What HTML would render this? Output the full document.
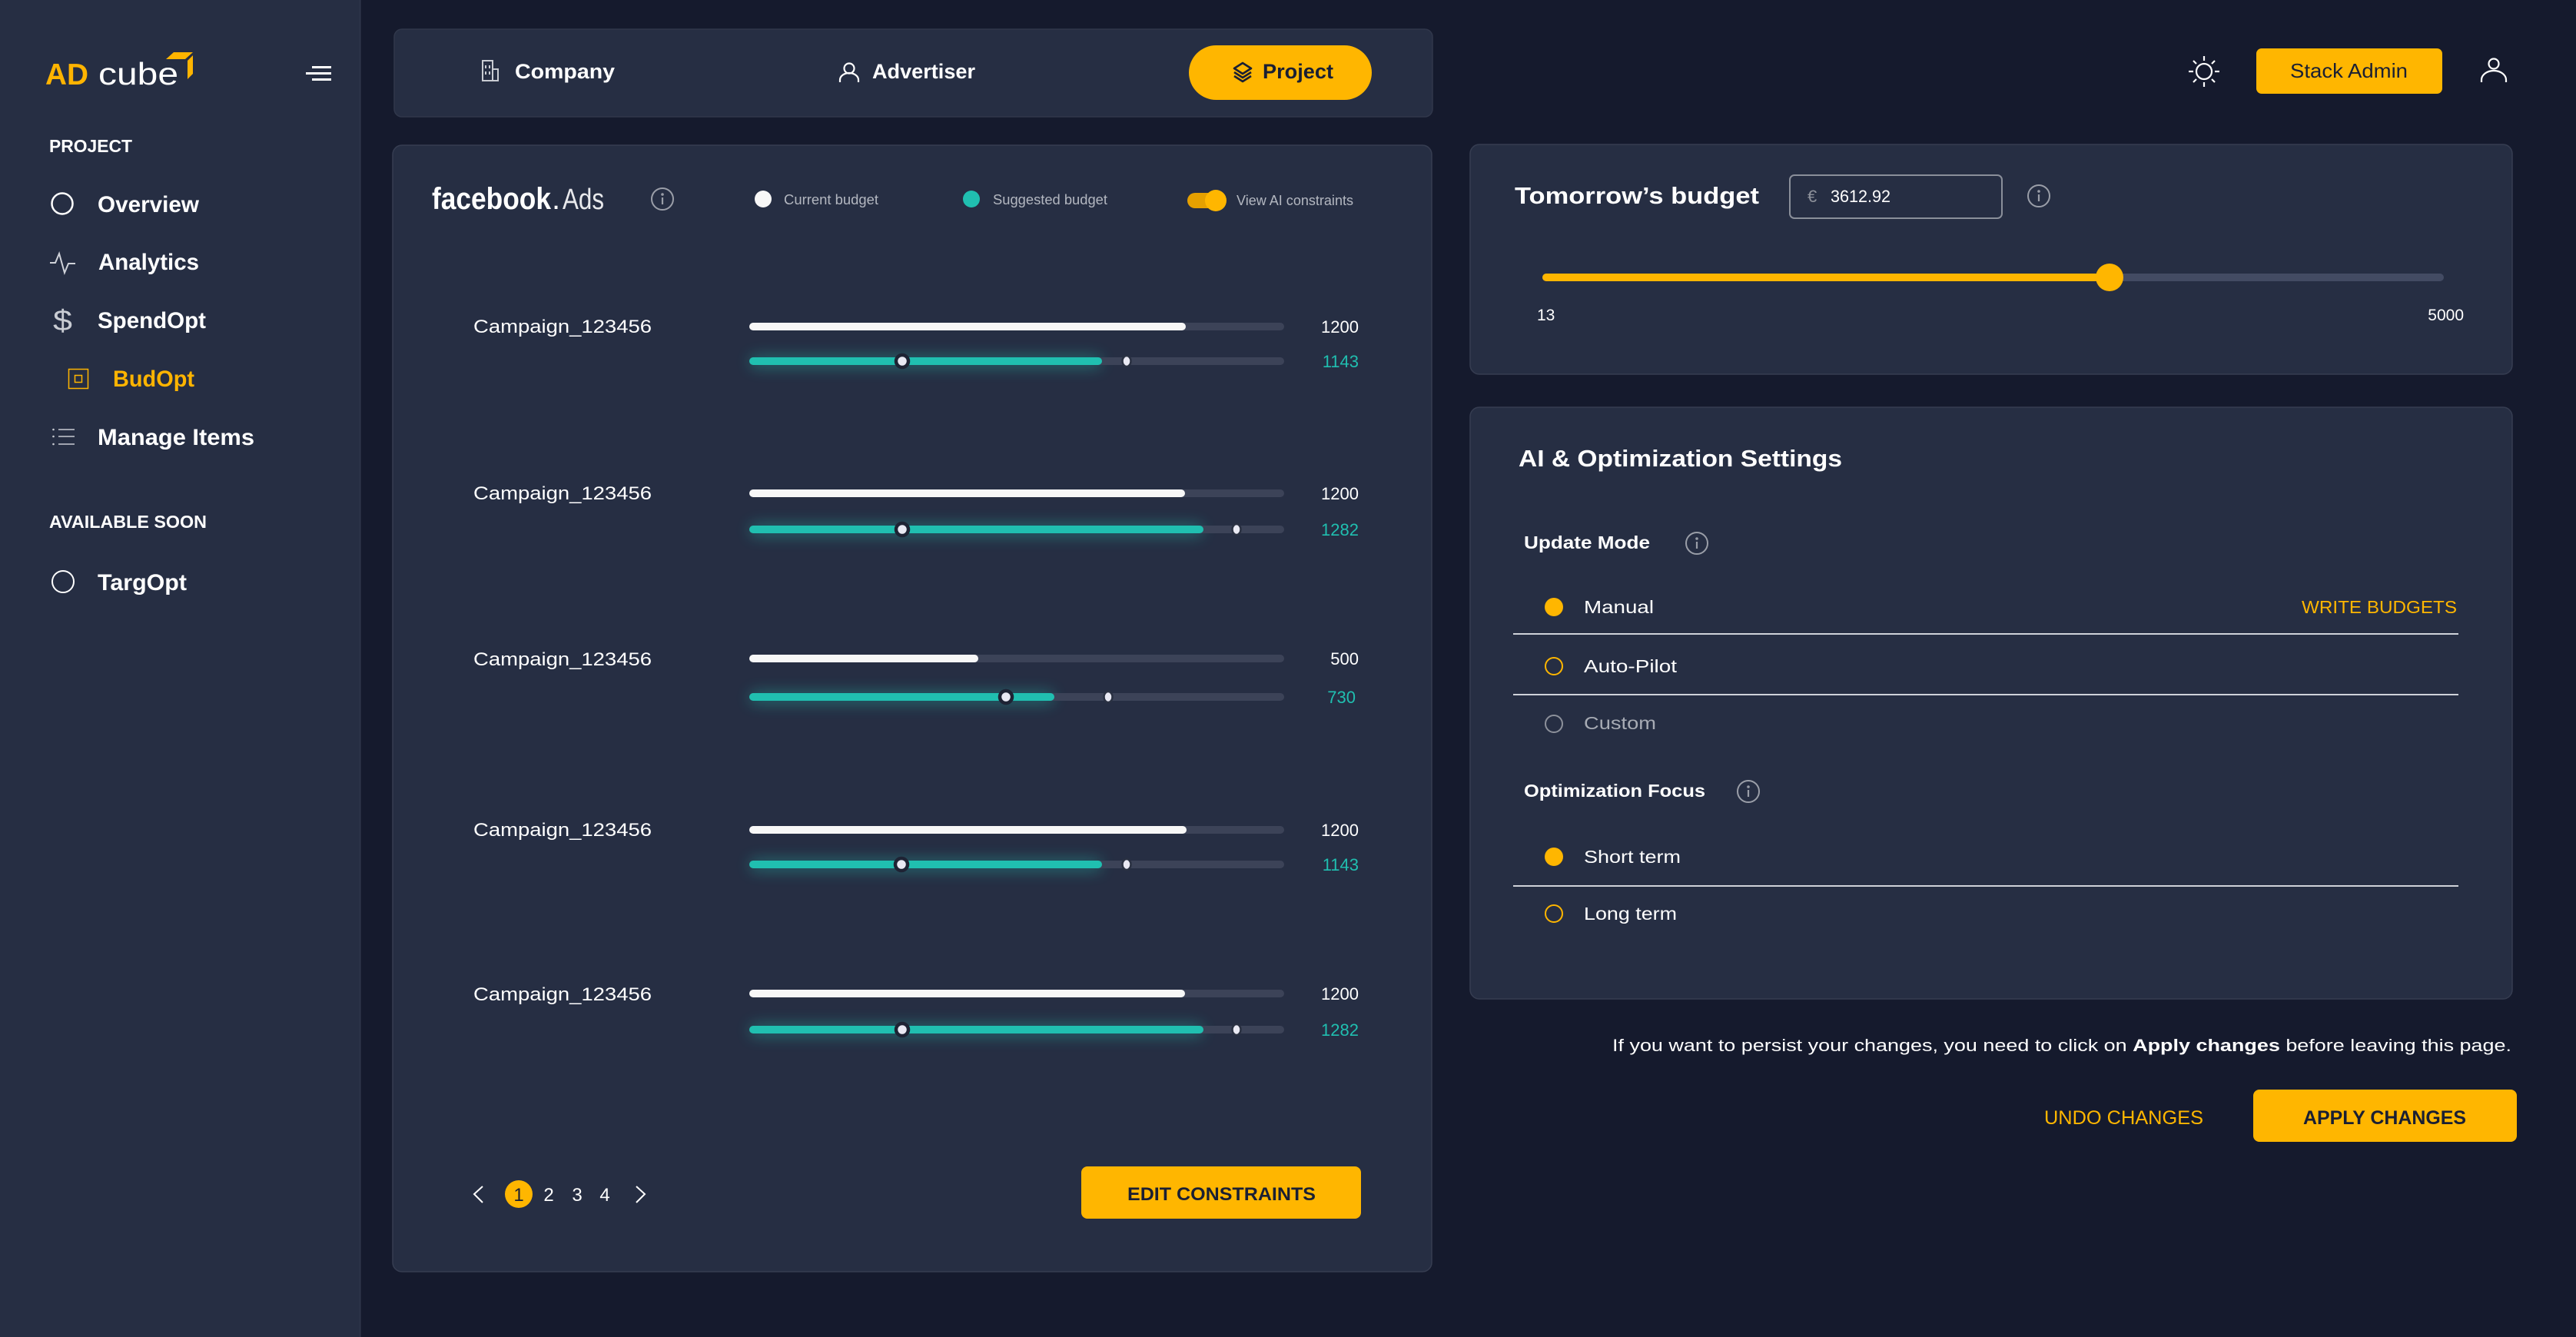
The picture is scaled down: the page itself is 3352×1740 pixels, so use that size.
<!DOCTYPE html>
<html><head><meta charset="utf-8"><style>
html,body{margin:0;padding:0;background:#151a2d;}
body{width:3352px;height:1740px;overflow:hidden;}
svg{display:block;}
text{font-family:"Liberation Sans",sans-serif;}
</style></head><body>
<svg width="3352" height="1740" viewBox="0 0 3352 1740" xmlns="http://www.w3.org/2000/svg">
<defs>
<filter id="glow" x="-20%" y="-200%" width="140%" height="500%"><feGaussianBlur stdDeviation="9"/></filter>
</defs>
<rect width="3352" height="1740" fill="#151a2d"/>
<!-- Sidebar -->
<rect x="0" y="0" width="469" height="1740" fill="#262e43"/>
<rect x="468" y="0" width="1.5" height="1740" fill="#30374b"/>
<text x="59" y="110" font-size="39" font-weight="bold" fill="#ffb400" textLength="56" lengthAdjust="spacingAndGlyphs">AD</text>
<text x="128" y="110" font-size="41" fill="#ffffff" textLength="104" lengthAdjust="spacingAndGlyphs">cube</text>
<polygon points="226,68 251,68 241,77 216,77" fill="#ffb400"/>
<polygon points="244,79 251,72 251,96 244,103" fill="#ffb400"/>
<rect x="406" y="86" width="25" height="3" fill="#fff"/>
<rect x="398" y="94" width="33" height="3" fill="#fff"/>
<rect x="406" y="102" width="25" height="3" fill="#fff"/>

<text x="64" y="198" font-size="23" font-weight="bold" fill="#fff" textLength="108" lengthAdjust="spacingAndGlyphs">PROJECT</text>
<circle cx="81" cy="265" r="13.5" fill="none" stroke="#fff" stroke-width="2.5"/>
<text x="127" y="276" font-size="30" font-weight="bold" fill="#fff" textLength="132" lengthAdjust="spacingAndGlyphs">Overview</text>
<polyline points="65,342 72,342 77,330 84,355 89,343 98,343" fill="none" stroke="#d0d3da" stroke-width="2"/>
<text x="128" y="351" font-size="30" font-weight="bold" fill="#fff" textLength="131" lengthAdjust="spacingAndGlyphs">Analytics</text>
<text x="69" y="430" font-size="38" fill="#c9ccd3" textLength="25" lengthAdjust="spacingAndGlyphs">$</text>
<text x="127" y="427" font-size="30" font-weight="bold" fill="#fff" textLength="141" lengthAdjust="spacingAndGlyphs">SpendOpt</text>
<rect x="89.5" y="480.5" width="25" height="25" fill="none" stroke="#ffb400" stroke-width="1.5"/>
<rect x="97.5" y="488.5" width="9" height="9" fill="none" stroke="#ffb400" stroke-width="1.5"/>
<text x="147" y="503" font-size="30" font-weight="bold" fill="#ffb400" textLength="106" lengthAdjust="spacingAndGlyphs">BudOpt</text>
<g fill="#c9ccd3"><circle cx="69.5" cy="559" r="1.3"/><circle cx="69.5" cy="568" r="1.3"/><circle cx="69.5" cy="578" r="1.3"/></g>
<g stroke="#c9ccd3" stroke-width="1.6"><line x1="76" y1="559" x2="97" y2="559"/><line x1="76" y1="568" x2="97" y2="568"/><line x1="76" y1="578" x2="97" y2="578"/></g>
<text x="127" y="579" font-size="30" font-weight="bold" fill="#fff" textLength="204" lengthAdjust="spacingAndGlyphs">Manage Items</text>
<text x="64" y="687" font-size="23" font-weight="bold" fill="#fff" textLength="205" lengthAdjust="spacingAndGlyphs">AVAILABLE SOON</text>
<circle cx="82" cy="757" r="14" fill="none" stroke="#fff" stroke-width="2"/>
<text x="127" y="768" font-size="30" font-weight="bold" fill="#fff" textLength="116" lengthAdjust="spacingAndGlyphs">TargOpt</text>

<!-- Top nav -->
<rect x="513" y="38" width="1351" height="114" rx="10" fill="#262e43" stroke="#30374b" stroke-width="1.5"/>
<g fill="none" stroke="#c9ccd3" stroke-width="2">
<rect x="628" y="79" width="13" height="26"/><rect x="641" y="90" width="7" height="15"/>
<line x1="632" y1="85" x2="632" y2="89"/><line x1="637" y1="85" x2="637" y2="89"/>
<line x1="632" y1="93" x2="632" y2="97"/><line x1="637" y1="93" x2="637" y2="97"/>
</g>
<text x="670" y="102" font-size="27" font-weight="bold" fill="#fff" textLength="130" lengthAdjust="spacingAndGlyphs">Company</text>
<g fill="none" stroke="#fff" stroke-width="2.2">
<circle cx="1105" cy="89" r="6.5"/><path d="M1093 107 v-3 a12 9 0 0 1 24 0 v3"/>
</g>
<text x="1135" y="102" font-size="27" font-weight="bold" fill="#fff" textLength="134" lengthAdjust="spacingAndGlyphs">Advertiser</text>
<rect x="1547" y="59" width="238" height="71" rx="35.5" fill="#ffb600"/>
<g fill="none" stroke="#1a1f33" stroke-width="2.6" stroke-linejoin="round">
<polygon points="1617,82 1628,89 1617,96 1606,89"/>
<polyline points="1606,94 1617,101 1628,94"/>
<polyline points="1606,99 1617,106 1628,99"/>
</g>
<text x="1643" y="102" font-size="27" font-weight="bold" fill="#1a1f33" textLength="92" lengthAdjust="spacingAndGlyphs">Project</text>

<!-- Facebook card -->
<rect x="511" y="189" width="1352" height="1466" rx="12" fill="#262e43" stroke="#363d51" stroke-width="1.5"/>
<text x="562" y="272" font-size="40" font-weight="bold" fill="#fff" textLength="155" lengthAdjust="spacingAndGlyphs">facebook</text>
<text x="718" y="272" font-size="40" fill="#fff">.</text>
<text x="732" y="272" font-size="38" fill="#e8e9ec" textLength="54" lengthAdjust="spacingAndGlyphs">Ads</text>
<g><circle cx="862" cy="259" r="14" fill="none" stroke="#9a9ea8" stroke-width="2"/><circle cx="862" cy="253" r="1.8" fill="#9a9ea8"/><line x1="862" y1="257" x2="862" y2="266" stroke="#9a9ea8" stroke-width="2.2"/></g>
<circle cx="993" cy="259" r="11" fill="#f7f7f7"/>
<text x="1020" y="266" font-size="18" fill="#b3b7c0" textLength="123" lengthAdjust="spacingAndGlyphs">Current budget</text>
<circle cx="1264" cy="259" r="11" fill="#20bfb0"/>
<text x="1292" y="266" font-size="18" fill="#b3b7c0" textLength="149" lengthAdjust="spacingAndGlyphs">Suggested budget</text>
<rect x="1545" y="251" width="44" height="20" rx="10" fill="#e5a000"/>
<circle cx="1582" cy="261" r="14" fill="#ffb600"/>
<text x="1609" y="267" font-size="18" fill="#b3b7c0" textLength="152" lengthAdjust="spacingAndGlyphs">View AI constraints</text>

<!-- Rows -->
<g id="rows">
<!-- row 1 -->
<text x="616" y="433" font-size="24" fill="#fff" textLength="232" lengthAdjust="spacingAndGlyphs">Campaign_123456</text>
<rect x="975" y="420" width="696" height="10" rx="5" fill="#3c4358"/>
<rect x="975" y="420" width="568" height="10" rx="5" fill="#f7f7f7"/>
<rect x="975" y="462" width="459" height="18" rx="9" fill="#20bfb0" opacity="0.35" filter="url(#glow)"/>
<rect x="975" y="465" width="696" height="10" rx="5" fill="#3c4358"/>
<rect x="975" y="465" width="459" height="10" rx="5" fill="#20bfb0"/>
<ellipse cx="1466" cy="470" rx="5.5" ry="7" fill="#e9e9f3" stroke="#2a3142" stroke-width="2.5"/>
<circle cx="1174" cy="470" r="8" fill="#e9e9f3" stroke="#1e2334" stroke-width="4.5"/>
<text x="1768" y="433" font-size="22" fill="#fff" text-anchor="end">1200</text>
<text x="1768" y="478" font-size="22" fill="#20bfb0" text-anchor="end">1143</text>
<!-- row 2 -->
<text x="616" y="650" font-size="24" fill="#fff" textLength="232" lengthAdjust="spacingAndGlyphs">Campaign_123456</text>
<rect x="975" y="637" width="696" height="10" rx="5" fill="#3c4358"/>
<rect x="975" y="637" width="567" height="10" rx="5" fill="#f7f7f7"/>
<rect x="975" y="681" width="591" height="18" rx="9" fill="#20bfb0" opacity="0.35" filter="url(#glow)"/>
<rect x="975" y="684" width="696" height="10" rx="5" fill="#3c4358"/>
<rect x="975" y="684" width="591" height="10" rx="5" fill="#20bfb0"/>
<ellipse cx="1609" cy="689" rx="5.5" ry="7" fill="#e9e9f3" stroke="#2a3142" stroke-width="2.5"/>
<circle cx="1174" cy="689" r="8" fill="#e9e9f3" stroke="#1e2334" stroke-width="4.5"/>
<text x="1768" y="650" font-size="22" fill="#fff" text-anchor="end">1200</text>
<text x="1768" y="697" font-size="22" fill="#20bfb0" text-anchor="end">1282</text>
<!-- row 3 -->
<text x="616" y="866" font-size="24" fill="#fff" textLength="232" lengthAdjust="spacingAndGlyphs">Campaign_123456</text>
<rect x="975" y="852" width="696" height="10" rx="5" fill="#3c4358"/>
<rect x="975" y="852" width="298" height="10" rx="5" fill="#f7f7f7"/>
<rect x="975" y="899" width="397" height="18" rx="9" fill="#20bfb0" opacity="0.35" filter="url(#glow)"/>
<rect x="975" y="902" width="696" height="10" rx="5" fill="#3c4358"/>
<rect x="975" y="902" width="397" height="10" rx="5" fill="#20bfb0"/>
<ellipse cx="1442" cy="907" rx="5.5" ry="7" fill="#e9e9f3" stroke="#2a3142" stroke-width="2.5"/>
<circle cx="1309" cy="907" r="8" fill="#e9e9f3" stroke="#1e2334" stroke-width="4.5"/>
<text x="1768" y="865" font-size="22" fill="#fff" text-anchor="end">500</text>
<text x="1764" y="915" font-size="22" fill="#20bfb0" text-anchor="end">730</text>
<!-- row 4 -->
<text x="616" y="1088" font-size="24" fill="#fff" textLength="232" lengthAdjust="spacingAndGlyphs">Campaign_123456</text>
<rect x="975" y="1075" width="696" height="10" rx="5" fill="#3c4358"/>
<rect x="975" y="1075" width="569" height="10" rx="5" fill="#f7f7f7"/>
<rect x="975" y="1117" width="459" height="18" rx="9" fill="#20bfb0" opacity="0.35" filter="url(#glow)"/>
<rect x="975" y="1120" width="696" height="10" rx="5" fill="#3c4358"/>
<rect x="975" y="1120" width="459" height="10" rx="5" fill="#20bfb0"/>
<ellipse cx="1466" cy="1125" rx="5.5" ry="7" fill="#e9e9f3" stroke="#2a3142" stroke-width="2.5"/>
<circle cx="1173" cy="1125" r="8" fill="#e9e9f3" stroke="#1e2334" stroke-width="4.5"/>
<text x="1768" y="1088" font-size="22" fill="#fff" text-anchor="end">1200</text>
<text x="1768" y="1133" font-size="22" fill="#20bfb0" text-anchor="end">1143</text>
<!-- row 5 -->
<text x="616" y="1302" font-size="24" fill="#fff" textLength="232" lengthAdjust="spacingAndGlyphs">Campaign_123456</text>
<rect x="975" y="1288" width="696" height="10" rx="5" fill="#3c4358"/>
<rect x="975" y="1288" width="567" height="10" rx="5" fill="#f7f7f7"/>
<rect x="975" y="1332" width="591" height="18" rx="9" fill="#20bfb0" opacity="0.35" filter="url(#glow)"/>
<rect x="975" y="1335" width="696" height="10" rx="5" fill="#3c4358"/>
<rect x="975" y="1335" width="591" height="10" rx="5" fill="#20bfb0"/>
<ellipse cx="1609" cy="1340" rx="5.5" ry="7" fill="#e9e9f3" stroke="#2a3142" stroke-width="2.5"/>
<circle cx="1174" cy="1340" r="8" fill="#e9e9f3" stroke="#1e2334" stroke-width="4.5"/>
<text x="1768" y="1301" font-size="22" fill="#fff" text-anchor="end">1200</text>
<text x="1768" y="1348" font-size="22" fill="#20bfb0" text-anchor="end">1282</text>
</g>

<!-- Pagination -->
<polyline points="628,1544 617,1554 628,1565" fill="none" stroke="#fff" stroke-width="2"/>
<circle cx="675" cy="1554" r="18" fill="#ffb600"/>
<text x="675" y="1563" font-size="24" fill="#1a1f33" text-anchor="middle">1</text>
<text x="714" y="1563" font-size="24" fill="#fff" text-anchor="middle">2</text>
<text x="751" y="1563" font-size="24" fill="#fff" text-anchor="middle">3</text>
<text x="787" y="1563" font-size="24" fill="#fff" text-anchor="middle">4</text>
<polyline points="828,1544 839,1554 828,1565" fill="none" stroke="#fff" stroke-width="2"/>
<rect x="1407" y="1518" width="364" height="68" rx="8" fill="#ffb600"/>
<text x="1467" y="1562" font-size="24" font-weight="bold" fill="#1a1f33" textLength="245" lengthAdjust="spacingAndGlyphs">EDIT CONSTRAINTS</text>

<!-- Header right -->
<g stroke="#fff" stroke-width="2.2" fill="none">
<circle cx="2868" cy="93" r="10"/>
<line x1="2868" y1="73" x2="2868" y2="79"/><line x1="2868" y1="107" x2="2868" y2="113"/>
<line x1="2848" y1="93" x2="2854" y2="93"/><line x1="2882" y1="93" x2="2888" y2="93"/>
<line x1="2854" y1="79" x2="2858" y2="83"/><line x1="2878" y1="103" x2="2882" y2="107"/>
<line x1="2882" y1="79" x2="2878" y2="83"/><line x1="2858" y1="103" x2="2854" y2="107"/>
</g>
<rect x="2936" y="63" width="242" height="59" rx="7" fill="#ffb600"/>
<text x="2980" y="101" font-size="26" fill="#1a1f33" textLength="153" lengthAdjust="spacingAndGlyphs">Stack Admin</text>
<g stroke="#fff" stroke-width="2.2" fill="none">
<circle cx="3245" cy="83" r="6.5"/>
<path d="M3229 107 v-3 a16 12 0 0 1 32 0 v3"/>
</g>

<!-- Budget card -->
<rect x="1913" y="188" width="1356" height="299" rx="12" fill="#262e43" stroke="#363d51" stroke-width="1.5"/>
<text x="1971" y="265" font-size="31" font-weight="bold" fill="#fff" textLength="318" lengthAdjust="spacingAndGlyphs">Tomorrow’s budget</text>
<rect x="2329" y="228" width="276" height="56" rx="6" fill="#262e43" stroke="#8a8f9a" stroke-width="2"/>
<text x="2352" y="263" font-size="22" fill="#8d919b">€</text>
<text x="2382" y="263" font-size="22" fill="#fff" textLength="78" lengthAdjust="spacingAndGlyphs">3612.92</text>
<g><circle cx="2653" cy="255" r="14" fill="none" stroke="#9a9ea8" stroke-width="2"/><circle cx="2653" cy="249" r="1.8" fill="#9a9ea8"/><line x1="2653" y1="253" x2="2653" y2="262" stroke="#9a9ea8" stroke-width="2.2"/></g>
<rect x="2007" y="356" width="1173" height="10" rx="5" fill="#434b63"/>
<rect x="2007" y="356" width="740" height="10" rx="5" fill="#ffb600"/>
<circle cx="2745" cy="361" r="18" fill="#ffb600"/>
<text x="2000" y="417" font-size="21" fill="#fff">13</text>
<text x="3206" y="417" font-size="21" fill="#fff" text-anchor="end">5000</text>

<!-- Settings card -->
<rect x="1913" y="530" width="1356" height="770" rx="12" fill="#262e43" stroke="#363d51" stroke-width="1.5"/>
<text x="1976" y="607" font-size="31" font-weight="bold" fill="#fff" textLength="421" lengthAdjust="spacingAndGlyphs">AI &amp; Optimization Settings</text>
<text x="1983" y="714" font-size="23" font-weight="bold" fill="#fff" textLength="164" lengthAdjust="spacingAndGlyphs">Update Mode</text>
<g><circle cx="2208" cy="707" r="14" fill="none" stroke="#9a9ea8" stroke-width="2"/><circle cx="2208" cy="701" r="1.8" fill="#9a9ea8"/><line x1="2208" y1="705" x2="2208" y2="714" stroke="#9a9ea8" stroke-width="2.2"/></g>
<circle cx="2022" cy="790" r="12" fill="#ffb600"/>
<text x="2061" y="798" font-size="23" fill="#fff" textLength="91" lengthAdjust="spacingAndGlyphs">Manual</text>
<text x="2995" y="798" font-size="23" fill="#ffb600" textLength="202" lengthAdjust="spacingAndGlyphs">WRITE BUDGETS</text>
<rect x="1969" y="824" width="1230" height="2" fill="#cfd2d9"/>
<circle cx="2022" cy="867" r="11" fill="none" stroke="#ffb600" stroke-width="2"/>
<text x="2061" y="875" font-size="23" fill="#fff" textLength="121" lengthAdjust="spacingAndGlyphs">Auto-Pilot</text>
<rect x="1969" y="903" width="1230" height="2" fill="#cfd2d9"/>
<circle cx="2022" cy="942" r="11" fill="none" stroke="#8d919b" stroke-width="2"/>
<text x="2061" y="949" font-size="23" fill="#a7abb4" textLength="94" lengthAdjust="spacingAndGlyphs">Custom</text>
<text x="1983" y="1037" font-size="23" font-weight="bold" fill="#fff" textLength="236" lengthAdjust="spacingAndGlyphs">Optimization Focus</text>
<g><circle cx="2275" cy="1030" r="14" fill="none" stroke="#9a9ea8" stroke-width="2"/><circle cx="2275" cy="1024" r="1.8" fill="#9a9ea8"/><line x1="2275" y1="1028" x2="2275" y2="1037" stroke="#9a9ea8" stroke-width="2.2"/></g>
<circle cx="2022" cy="1115" r="12" fill="#ffb600"/>
<text x="2061" y="1123" font-size="23" fill="#fff" textLength="126" lengthAdjust="spacingAndGlyphs">Short term</text>
<rect x="1969" y="1152" width="1230" height="2" fill="#cfd2d9"/>
<circle cx="2022" cy="1189" r="11" fill="none" stroke="#ffb600" stroke-width="2"/>
<text x="2061" y="1197" font-size="23" fill="#fff" textLength="121" lengthAdjust="spacingAndGlyphs">Long term</text>

<!-- Footer -->
<text x="2098" y="1368" font-size="22" fill="#fff" textLength="1170" lengthAdjust="spacingAndGlyphs">If you want to persist your changes, you need to click on <tspan font-weight="bold">Apply changes</tspan> before leaving this page.</text>
<text x="2660" y="1463" font-size="25" fill="#ffb600" textLength="207" lengthAdjust="spacingAndGlyphs">UNDO CHANGES</text>
<rect x="2932" y="1418" width="343" height="68" rx="8" fill="#ffb600"/>
<text x="2997" y="1463" font-size="25" font-weight="bold" fill="#1a1f33" textLength="212" lengthAdjust="spacingAndGlyphs">APPLY CHANGES</text>
</svg>
</body></html>
